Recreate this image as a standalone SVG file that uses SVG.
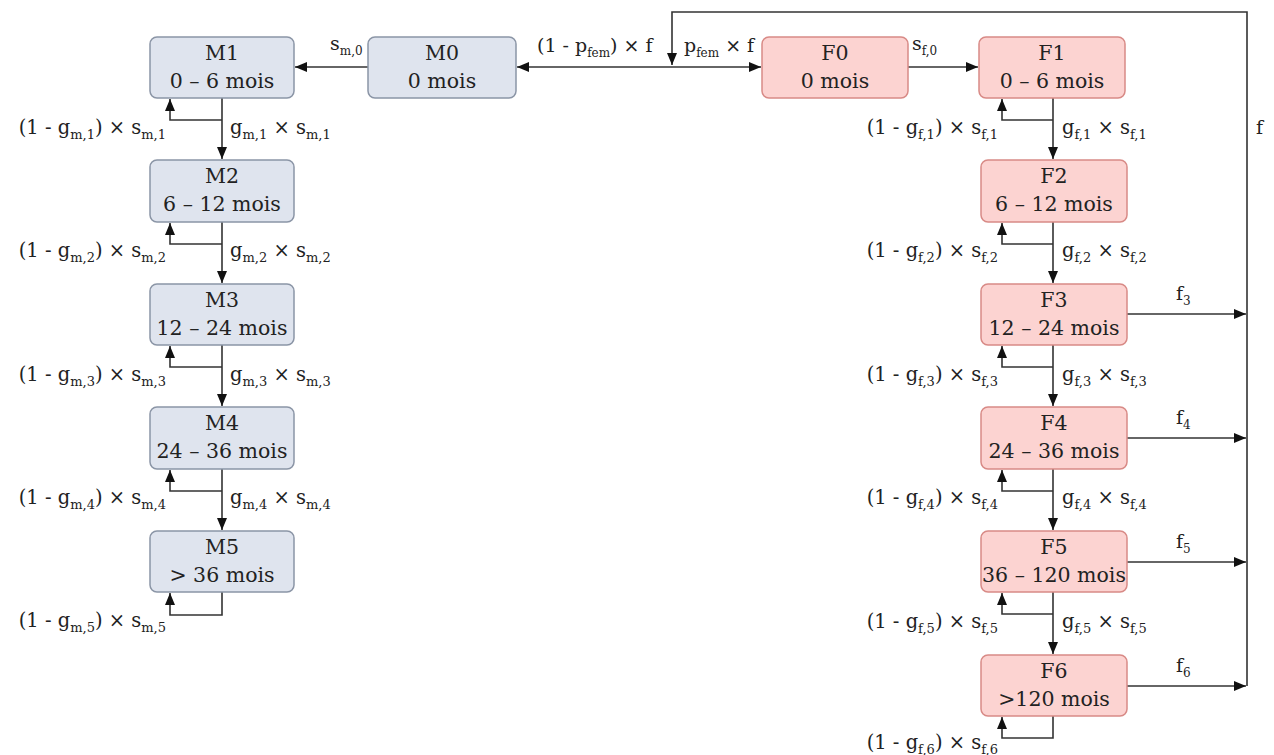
<svg xmlns="http://www.w3.org/2000/svg" width="1274" height="755" viewBox="0 0 1274 755">
<defs>
<marker id="ah" markerUnits="userSpaceOnUse" markerWidth="14" markerHeight="12" refX="12" refY="5" orient="auto">
<path d="M0,0 L12,5 L0,10 z" fill="#111"/>
</marker>
<style>
.m rect{fill:#dfe4ee;stroke:#8b95a6;stroke-width:1.5}
.f rect{fill:#fcd3d1;stroke:#d88a86;stroke-width:1.5}
text{font-family:"DejaVu Serif","Liberation Serif",serif;fill:#222}
.n{font-size:20.5px;text-anchor:middle}
.l{font-size:19px}
.lp{font-size:19.5px}
.e{text-anchor:end}
.sub{font-size:12px}
.lp .sub{font-size:13px}
#conn path,#conn line{fill:none;stroke:#333;stroke-width:1.6}
.a{marker-end:url(#ah)}
</style>
</defs>
<rect width="1274" height="755" fill="#fff"/>
<g id="conn">
<path class="a" d="M1247,686 L1247,12 L672,12 L672,65"/>
<line class="a" x1="672" y1="67" x2="517" y2="67"/>
<line class="a" x1="672" y1="67" x2="761" y2="67"/>
<line class="a" x1="368" y1="67" x2="295" y2="67"/>
<line class="a" x1="908" y1="67" x2="978" y2="67"/>
<line class="a" x1="222" y1="98" x2="222" y2="159"/>
<line class="a" x1="222" y1="222" x2="222" y2="283"/>
<line class="a" x1="222" y1="345" x2="222" y2="406"/>
<line class="a" x1="222" y1="469" x2="222" y2="530"/>
<path class="a" d="M222,120 L170,120 L170,99"/>
<path class="a" d="M222,244 L170,244 L170,223"/>
<path class="a" d="M222,367 L170,367 L170,346"/>
<path class="a" d="M222,491 L170,491 L170,470"/>
<path class="a" d="M222,592 L222,615 L170,615 L170,593"/>
<line class="a" x1="1053" y1="98" x2="1053" y2="159"/>
<line class="a" x1="1053" y1="222" x2="1053" y2="283"/>
<line class="a" x1="1053" y1="345" x2="1053" y2="406"/>
<line class="a" x1="1053" y1="469" x2="1053" y2="530"/>
<line class="a" x1="1053" y1="592" x2="1053" y2="654"/>
<path class="a" d="M1053,120 L1002,120 L1002,99"/>
<path class="a" d="M1053,244 L1002,244 L1002,223"/>
<path class="a" d="M1053,367 L1002,367 L1002,346"/>
<path class="a" d="M1053,491 L1002,491 L1002,470"/>
<path class="a" d="M1053,614 L1002,614 L1002,593"/>
<path class="a" d="M1053,716 L1053,738 L1002,738 L1002,717"/>
<line class="a" x1="1127" y1="314" x2="1246" y2="314"/>
<line class="a" x1="1127" y1="438" x2="1246" y2="438"/>
<line class="a" x1="1127" y1="562" x2="1246" y2="562"/>
<line class="a" x1="1127" y1="686" x2="1246" y2="686"/>
</g>
<g id="labels">
<text class="l" x="330" y="50">s<tspan class="sub" dy="5">m,0</tspan></text>
<text class="l" x="537" y="52">(1 - p<tspan class="sub" dy="5">fem</tspan><tspan dy="-5">) × f</tspan></text>
<text class="l" x="684" y="52">p<tspan class="sub" dy="5">fem</tspan><tspan dy="-5"> × f</tspan></text>
<text class="l" x="912" y="50">s<tspan class="sub" dy="5">f,0</tspan></text>
<text class="l" x="1256" y="134">f</text>

<text class="lp e" x="166" y="134">(1 - g<tspan class="sub" dy="5">m,1</tspan><tspan dy="-5">) × s</tspan><tspan class="sub" dy="5">m,1</tspan></text>
<text class="lp" x="230" y="134">g<tspan class="sub" dy="5">m,1</tspan><tspan dy="-5"> × s</tspan><tspan class="sub" dy="5">m,1</tspan></text>
<text class="lp e" x="166" y="257">(1 - g<tspan class="sub" dy="5">m,2</tspan><tspan dy="-5">) × s</tspan><tspan class="sub" dy="5">m,2</tspan></text>
<text class="lp" x="230" y="257">g<tspan class="sub" dy="5">m,2</tspan><tspan dy="-5"> × s</tspan><tspan class="sub" dy="5">m,2</tspan></text>
<text class="lp e" x="166" y="381">(1 - g<tspan class="sub" dy="5">m,3</tspan><tspan dy="-5">) × s</tspan><tspan class="sub" dy="5">m,3</tspan></text>
<text class="lp" x="230" y="381">g<tspan class="sub" dy="5">m,3</tspan><tspan dy="-5"> × s</tspan><tspan class="sub" dy="5">m,3</tspan></text>
<text class="lp e" x="166" y="504">(1 - g<tspan class="sub" dy="5">m,4</tspan><tspan dy="-5">) × s</tspan><tspan class="sub" dy="5">m,4</tspan></text>
<text class="lp" x="230" y="504">g<tspan class="sub" dy="5">m,4</tspan><tspan dy="-5"> × s</tspan><tspan class="sub" dy="5">m,4</tspan></text>
<text class="lp e" x="166" y="627">(1 - g<tspan class="sub" dy="5">m,5</tspan><tspan dy="-5">) × s</tspan><tspan class="sub" dy="5">m,5</tspan></text>

<text class="lp e" x="998" y="134">(1 - g<tspan class="sub" dy="5">f,1</tspan><tspan dy="-5">) × s</tspan><tspan class="sub" dy="5">f,1</tspan></text>
<text class="lp" x="1062" y="134">g<tspan class="sub" dy="5">f,1</tspan><tspan dy="-5"> × s</tspan><tspan class="sub" dy="5">f,1</tspan></text>
<text class="lp e" x="998" y="257">(1 - g<tspan class="sub" dy="5">f,2</tspan><tspan dy="-5">) × s</tspan><tspan class="sub" dy="5">f,2</tspan></text>
<text class="lp" x="1062" y="257">g<tspan class="sub" dy="5">f,2</tspan><tspan dy="-5"> × s</tspan><tspan class="sub" dy="5">f,2</tspan></text>
<text class="lp e" x="998" y="381">(1 - g<tspan class="sub" dy="5">f,3</tspan><tspan dy="-5">) × s</tspan><tspan class="sub" dy="5">f,3</tspan></text>
<text class="lp" x="1062" y="381">g<tspan class="sub" dy="5">f,3</tspan><tspan dy="-5"> × s</tspan><tspan class="sub" dy="5">f,3</tspan></text>
<text class="lp e" x="998" y="504">(1 - g<tspan class="sub" dy="5">f,4</tspan><tspan dy="-5">) × s</tspan><tspan class="sub" dy="5">f,4</tspan></text>
<text class="lp" x="1062" y="504">g<tspan class="sub" dy="5">f,4</tspan><tspan dy="-5"> × s</tspan><tspan class="sub" dy="5">f,4</tspan></text>
<text class="lp e" x="998" y="628">(1 - g<tspan class="sub" dy="5">f,5</tspan><tspan dy="-5">) × s</tspan><tspan class="sub" dy="5">f,5</tspan></text>
<text class="lp" x="1062" y="628">g<tspan class="sub" dy="5">f,5</tspan><tspan dy="-5"> × s</tspan><tspan class="sub" dy="5">f,5</tspan></text>
<text class="lp e" x="998" y="749">(1 - g<tspan class="sub" dy="5">f,6</tspan><tspan dy="-5">) × s</tspan><tspan class="sub" dy="5">f,6</tspan></text>

<text class="l" x="1176" y="300">f<tspan class="sub" dy="5">3</tspan></text>
<text class="l" x="1176" y="424">f<tspan class="sub" dy="5">4</tspan></text>
<text class="l" x="1176" y="548">f<tspan class="sub" dy="5">5</tspan></text>
<text class="l" x="1176" y="672">f<tspan class="sub" dy="5">6</tspan></text>
</g>
<g id="M0" class="m"><rect x="368" y="37" width="148" height="61" rx="7"/><text class="n" x="442" y="60">M0</text><text class="n" x="442" y="88">0 mois</text></g>
<g id="M1" class="m"><rect x="150" y="37" width="144" height="61" rx="7"/><text class="n" x="222" y="60">M1</text><text class="n" x="222" y="88">0 – 6 mois</text></g>
<g id="M2" class="m"><rect x="150" y="160" width="144" height="62" rx="7"/><text class="n" x="222" y="183">M2</text><text class="n" x="222" y="211">6 – 12 mois</text></g>
<g id="M3" class="m"><rect x="150" y="284" width="144" height="61" rx="7"/><text class="n" x="222" y="307">M3</text><text class="n" x="222" y="335">12 – 24 mois</text></g>
<g id="M4" class="m"><rect x="150" y="407" width="144" height="62" rx="7"/><text class="n" x="222" y="430">M4</text><text class="n" x="222" y="458">24 – 36 mois</text></g>
<g id="M5" class="m"><rect x="150" y="531" width="144" height="61" rx="7"/><text class="n" x="222" y="554">M5</text><text class="n" x="222" y="582">&gt; 36 mois</text></g>
<g id="F0" class="f"><rect x="762" y="37" width="146" height="61" rx="7"/><text class="n" x="835" y="60">F0</text><text class="n" x="835" y="88">0 mois</text></g>
<g id="F1" class="f"><rect x="979" y="37" width="146" height="61" rx="7"/><text class="n" x="1052" y="60">F1</text><text class="n" x="1052" y="88">0 – 6 mois</text></g>
<g id="F2" class="f"><rect x="981" y="160" width="146" height="62" rx="7"/><text class="n" x="1054" y="183">F2</text><text class="n" x="1054" y="211">6 – 12 mois</text></g>
<g id="F3" class="f"><rect x="981" y="284" width="146" height="61" rx="7"/><text class="n" x="1054" y="307">F3</text><text class="n" x="1054" y="335">12 – 24 mois</text></g>
<g id="F4" class="f"><rect x="981" y="407" width="146" height="62" rx="7"/><text class="n" x="1054" y="430">F4</text><text class="n" x="1054" y="458">24 – 36 mois</text></g>
<g id="F5" class="f"><rect x="981" y="531" width="146" height="61" rx="7"/><text class="n" x="1054" y="554">F5</text><text class="n" x="1054" y="582">36 – 120 mois</text></g>
<g id="F6" class="f"><rect x="981" y="655" width="146" height="61" rx="7"/><text class="n" x="1054" y="678">F6</text><text class="n" x="1054" y="706">&gt;120 mois</text></g>
</svg>
